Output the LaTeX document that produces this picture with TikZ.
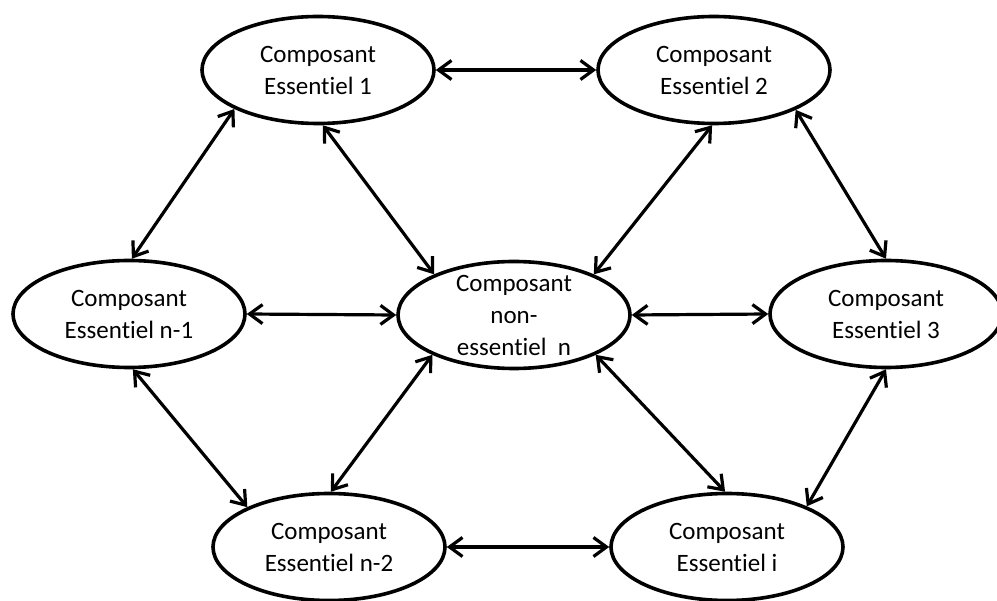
\documentclass[tikz,border=0pt]{standalone}
\usepackage{fontspec}
\setmainfont{Carlito}[Ligatures=NoCommon]
\usetikzlibrary{shapes.geometric,arrows.meta}
\begin{document}
\begin{tikzpicture}[x=1pt,y=-1pt,
  txt/.style={align=center,inner sep=0pt,font=\fontsize{25}{32}\selectfont},
  comp/.style={ellipse,draw,line width=3.6pt,minimum width=232pt,minimum height=107pt,
    inner sep=0pt,label={[txt]center:#1}},
  link/.style={line width=3.2pt,
    {Straight Barb[length=13pt,width=19pt]}-{Straight Barb[length=13pt,width=19pt]}}]
\useasboundingbox (0,0) rectangle (997,601);
% components of the system
\node[comp={Composant\\Essentiel 1}]   (e1) at (318,70)  {};
\node[comp={Composant\\Essentiel 2}]   (e2) at (714,70)  {};
\node[comp={Composant\\Essentiel n-1}] (en1) at (129,314) {};
\node[comp={Composant\\non-\\essentiel\ \ n}] (c) at (514,315) {};
\node[comp={Composant\\Essentiel 3}]   (e3) at (886,314) {};
\node[comp={Composant\\Essentiel n-2}] (en2) at (329,547) {};
\node[comp={Composant\\Essentiel i}]   (ei) at (727,547) {};
% two-way links between components
\draw[link] (e1.east) -- (e2.west);
\draw[link] (en1.east) -- (c.west);
\draw[link] (c.east) -- (e3.west);
\draw[link] (en2.east) -- (ei.west);
\draw[link] (e1.205) -- (en1.87);
\draw[link] (e1.275) -- (c.153);
\draw[link] (e2.268) -- (c.27);
\draw[link] (e2.334) -- (e3.90);
\draw[link] (en1.274) -- (en2.154);
\draw[link] (c.206) -- (en2.88);
\draw[link] (c.334) -- (ei.92);
\draw[link] (e3.270) -- (ei.27);
\end{tikzpicture}
\end{document}
